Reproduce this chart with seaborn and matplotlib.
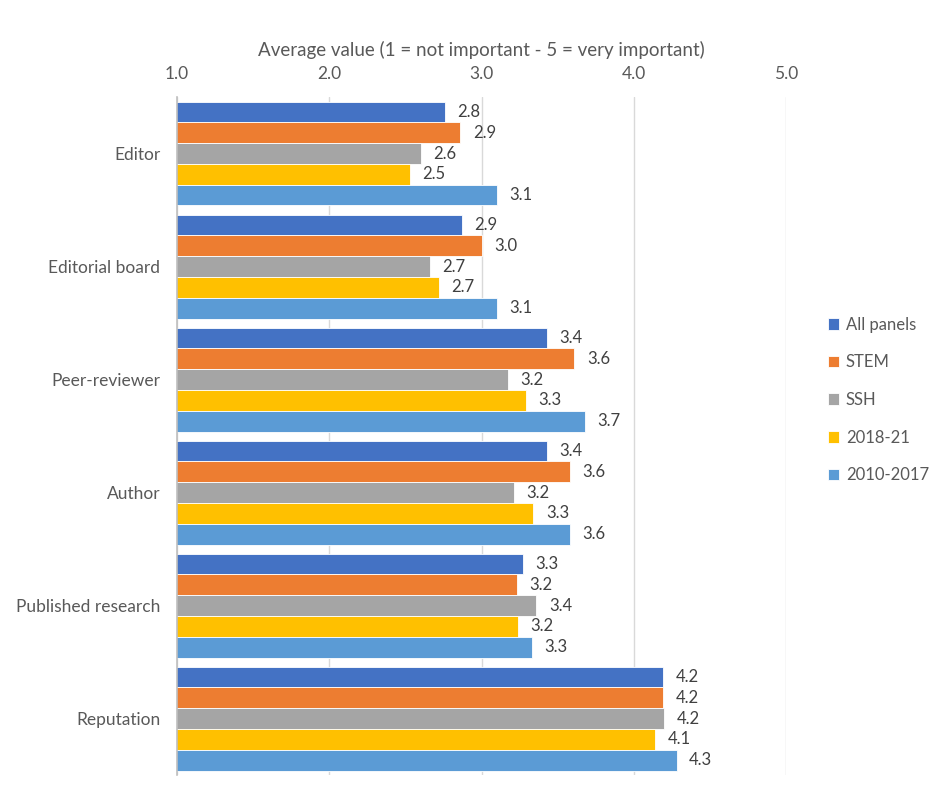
import matplotlib
matplotlib.use("Agg")
import matplotlib.pyplot as plt
import pandas as pd
import seaborn as sns

# ------------------------------------------------------------------------------ #
# Data
# ------------------------------------------------------------------------------ #
categories = ["Editor", "Editorial board", "Peer-reviewer", "Author",
              "Published research", "Reputation"]
series = ["All panels", "STEM", "SSH", "2018-21", "2010-2017"]

all_panels = [2.76, 2.87, 3.43, 3.43, 3.27, 4.19]
stem = [2.86, 3.00, 3.61, 3.58, 3.23, 4.19]
ssh = [2.60, 2.66, 3.17, 3.21, 3.36, 4.20]
y2018_21 = [2.53, 2.72, 3.29, 3.34, 3.24, 4.14]
y2010_17 = [3.10, 3.10, 3.68, 3.58, 3.33, 4.28]

colors = ["#4472C4", "#ED7D31", "#A5A5A5", "#FFC000", "#5B9BD5"]
x_ticks = [1.0, 2.0, 3.0, 4.0, 5.0]

df = pd.DataFrame({
    "category": categories * 5,
    "series": [s for s in series for _ in categories],
    "value": all_panels + stem + ssh + y2018_21 + y2010_17,
})

# ------------------------------------------------------------------------------ #
# Figure
# ------------------------------------------------------------------------------ #
sns.set_style("white")
plt.rcParams["font.family"] = ["Lato", "DejaVu Sans"]
text_col = "#595959"

fig = plt.figure(figsize=(9.37, 7.95), dpi=100)
ax = fig.add_axes([0.189, 0.025, 0.650, 0.853])

sns.barplot(
    data=df, y="category", x="value", hue="series",
    order=categories, hue_order=series, palette=colors,
    orient="h", width=0.92, gap=0, errorbar=None,
    edgecolor="white", linewidth=0.6, saturation=1, ax=ax,
)

for cont in ax.containers:
    ax.bar_label(cont, fmt="%.1f", padding=9, fontsize=12, color="#404040")

ax.set_xlim(1.0, 5.0)
ax.set_xticks(x_ticks)
ax.set_xticklabels([f"{t:.1f}" for t in x_ticks])
ax.xaxis.tick_top()
ax.xaxis.set_label_position("top")
ax.set_xlabel("Average value (1 = not important - 5 = very important)",
              fontsize=13.5, color=text_col, labelpad=7)
ax.set_ylabel("")
ax.tick_params(axis="x", length=0, pad=11, labelsize=12.5, labelcolor=text_col)
ax.tick_params(axis="y", length=0, pad=12, labelsize=12.5, labelcolor=text_col)

ax.grid(axis="x", color="#D9D9D9", linewidth=1)
ax.set_axisbelow(True)
for side in ["top", "right", "bottom"]:
    ax.spines[side].set_visible(False)
ax.spines["left"].set_color("#BFBFBF")
ax.spines["left"].set_linewidth(1.2)

handles, labels = ax.get_legend_handles_labels()
ax.legend(handles, labels, loc="center left", bbox_to_anchor=(1.057, 0.553),
          frameon=False, fontsize=12, labelspacing=1.3,
          handlelength=0.7, handleheight=0.7, handletextpad=0.4,
          borderaxespad=0, labelcolor=text_col)

fig.savefig("out.png", dpi=100)
